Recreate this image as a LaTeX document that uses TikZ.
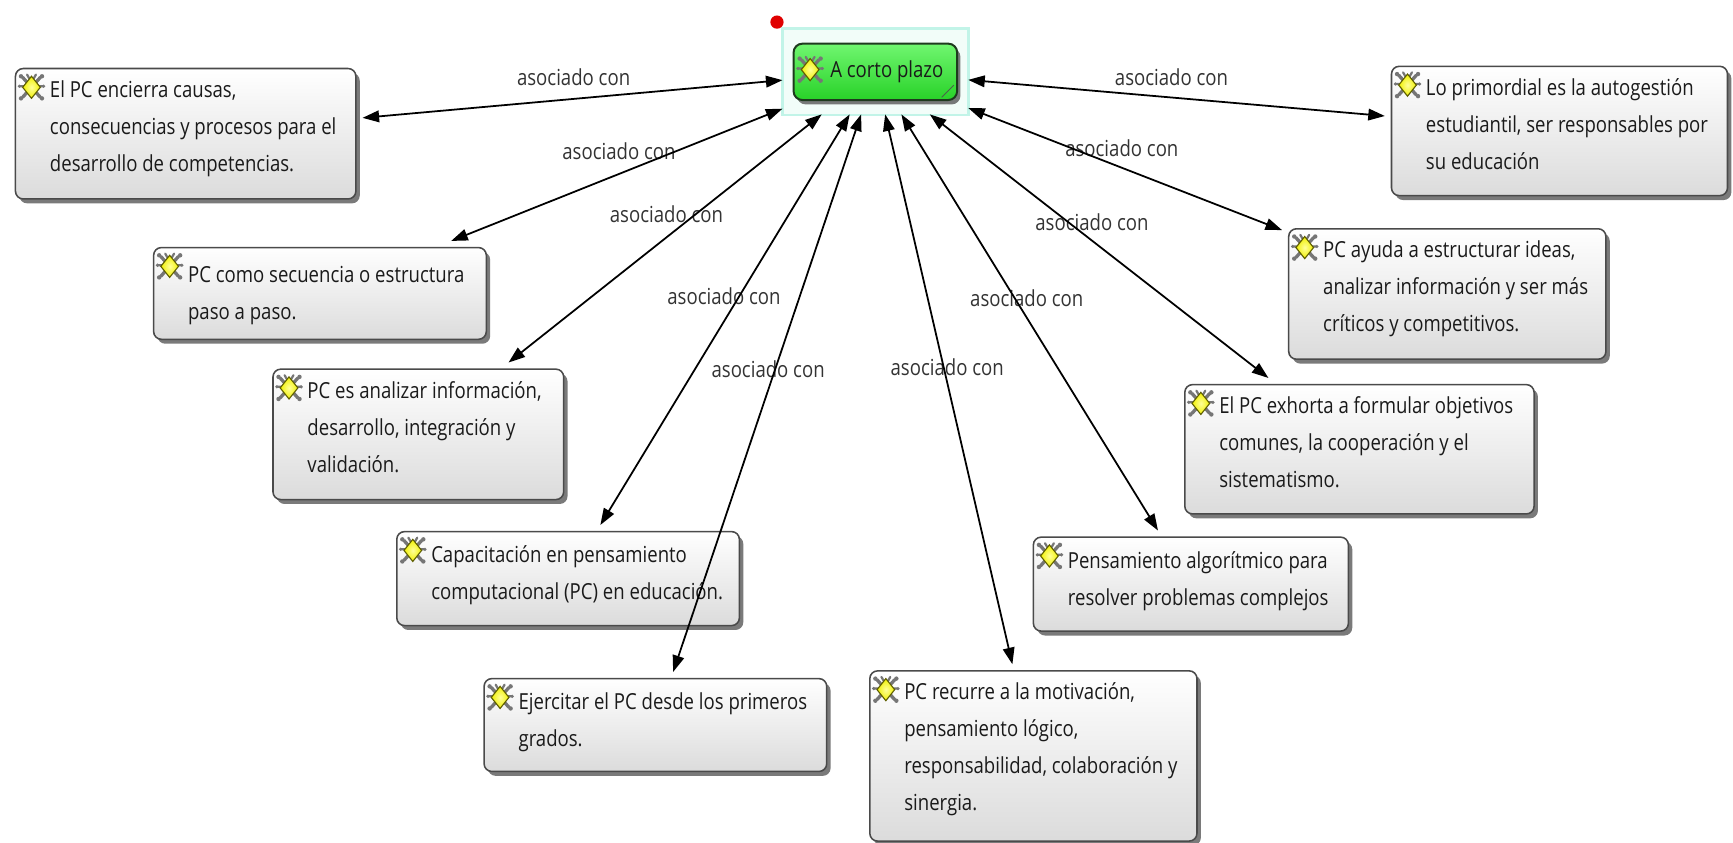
\documentclass[tikz,border=0pt]{standalone}
\usepackage{fontspec}
\setmainfont{Open Sans}[FakeStretch=0.84]
\usetikzlibrary{arrows.meta,shadows,calc}
\definecolor{boxborder}{HTML}{4A4A4A}
\definecolor{hubtop}{HTML}{70F670}
\definecolor{hubbot}{HTML}{28D228}
\definecolor{hubborder}{HTML}{1E3A1E}
\definecolor{selcol}{HTML}{C2F4E8}
\definecolor{selfill}{HTML}{F2FDF9}
\definecolor{labelcol}{HTML}{333333}
\definecolor{txtcol}{HTML}{1A1A1A}
\definecolor{icoyellow}{HTML}{F0F000}
\definecolor{icolight}{HTML}{FFFF99}
\definecolor{icoedge}{HTML}{5E5E00}
\definecolor{icogray}{HTML}{767676}
\definecolor{dotred}{HTML}{E00000}
\tikzset{
  conceptbox/.style={draw=boxborder, line width=1.4pt, rounded corners=7pt,
     top color=white, bottom color=black!14, inner sep=0pt, outer sep=6pt,
     drop shadow={shadow xshift=3.5pt, shadow yshift=-4pt, fill=black!65, opacity=0.8}},
  hubbox/.style={draw=hubborder, line width=1.8pt, rounded corners=8pt,
     top color=hubtop, bottom color=hubbot, inner sep=0pt,
     outer xsep=10pt, outer ysep=13pt,
     drop shadow={shadow xshift=3pt, shadow yshift=-4pt, fill=black!65, opacity=0.8}},
  boxtext/.style={anchor=north west, align=left, inner sep=0pt, text=txtcol,
     font=\fontsize{20}{33.5}\selectfont},
  linklabel/.style={text=labelcol, font=\fontsize{20}{24}\selectfont, inner sep=0pt},
  link/.style={line width=1.6pt, {Triangle[length=15pt,width=10.5pt]}-{Triangle[length=15pt,width=10.5pt]}},
  icon/.pic={
     \draw[icogray, line width=3pt, line cap=round] (-8,-9) -- (8,9) (-8,9) -- (8,-9);
     \draw[icogray, line width=2pt, line cap=round] (-10.5,-1) -- (-6,-1) (6,-1) -- (10.5,-1)
        (-4,-11.5) -- (-2,-8) (4,-11.5) -- (2,-8);
     \fill[icogray] (-9.5,-10) circle (2) (9.5,-10) circle (2) (-9.5,10) circle (2) (9.5,10) circle (2)
        (-11,-1) circle (1.6) (11,-1) circle (1.6);
     \draw[icoedge, line width=1pt, inner color=icolight, outer color=icoyellow]
        (0,-10) -- (8,0) -- (0,10) -- (-8,0) -- cycle;
  },
}
\begin{document}
\begin{tikzpicture}[x=1pt,y=-1pt]
\useasboundingbox[fill=white] (0,0) rectangle (1568,762);
% selection highlight and marker
\draw[selcol, line width=2.5pt, fill=selfill] (708,26) rectangle (876,104);
\fill[dotred] (703,20) circle (6);
% hub
\node[hubbox, minimum width=148pt, minimum height=51pt] (hub) at (792,65) {};
\pic at (733,63) {icon};
\node[boxtext, anchor=west] (hubt) at (751,65) {A corto plazo};
\draw[hubborder!80, line width=0.8pt] (852,88) -- (863,77);
% concept boxes
\newcommand\cbox[7]{% name, cx, cy, w, h, left, top
  \node[conceptbox, minimum width=#4pt, minimum height=#5pt] (#1) at (#2,#3) {};
  \pic at ($(#6,#7)+(14.5,17)$) {icon};
}
\cbox{b1}{168}{121}{308}{118}{14}{62}
\node[boxtext] (b1t) at (45,62+10) {\rule{0pt}{16pt}El PC encierra causas,\\consecuencias y procesos para el\\desarrollo de competencias.};
\cbox{b2}{1411}{118.5}{304}{117}{1259}{60}
\node[boxtext] (b2t) at (1259+31,60+10) {\rule{0pt}{16pt}Lo primordial es la autogestión\\estudiantil, ser responsables por\\su educación};
\cbox{b3}{289.5}{265.5}{301}{83}{139}{224}
\node[boxtext] (b3t) at (139+31,224+15) {\rule{0pt}{16pt}PC como secuencia o estructura\\paso a paso.};
\cbox{b4}{1309.5}{266}{287}{118}{1166}{207}
\node[boxtext] (b4t) at (1166+31,207+10) {\rule{0pt}{16pt}PC ayuda a estructurar ideas,\\analizar información y ser más\\críticos y competitivos.};
\cbox{b5}{378.5}{393}{263}{118}{247}{334}
\node[boxtext] (b5t) at (247+31,334+10) {\rule{0pt}{16pt}PC es analizar información,\\desarrollo, integración y\\validación.};
\cbox{b6}{1230}{406.5}{316}{117}{1072}{348}
\node[boxtext] (b6t) at (1072+31,348+10) {\rule{0pt}{16pt}El PC exhorta a formular objetivos\\comunes, la cooperación y el\\sistematismo.};
\cbox{b7}{514}{523.5}{310}{85}{359}{481}
\node[boxtext] (b7t) at (359+31,481+12) {\rule{0pt}{16pt}Capacitación en pensamiento\\computacional (PC) en educación.};
\cbox{b8}{1077.5}{528.5}{285}{85}{935}{486}
\node[boxtext] (b8t) at (935+31,486+12) {\rule{0pt}{16pt}Pensamiento algorítmico para\\resolver problemas complejos};
\cbox{b9}{593}{656}{310}{84}{438}{614}
\node[boxtext] (b9t) at (438+31,614+12) {\rule{0pt}{16pt}Ejercitar el PC desde los primeros\\grados.};
\cbox{b10}{935}{684}{296}{154}{787}{607}
\node[boxtext] (b10t) at (787+31,607+10) {\rule{0pt}{16pt}PC recurre a la motivación,\\pensamiento lógico,\\responsabilidad, colaboración y\\sinergia.};
% link labels
\node[linklabel] (l1) at (519,70) {asociado con};
\node[linklabel] (l2) at (1060,70) {asociado con};
\node[linklabel] (l3) at (560,137) {asociado con};
\node[linklabel] (l4) at (1015,134) {asociado con};
\node[linklabel] (l5) at (603,194) {asociado con};
\node[linklabel] (l6) at (988,201) {asociado con};
\node[linklabel] (l7) at (655,268) {asociado con};
\node[linklabel] (l8) at (929,270) {asociado con};
\node[linklabel] (l9) at (695,334) {asociado con};
\node[linklabel] (l10) at (857,332) {asociado con};
% connectors
\foreach \b in {b1,b2,b3,b4,b5,b6,b7,b8,b9,b10}
  \draw[link] (hub) -- (\b);
\end{tikzpicture}
\end{document}
